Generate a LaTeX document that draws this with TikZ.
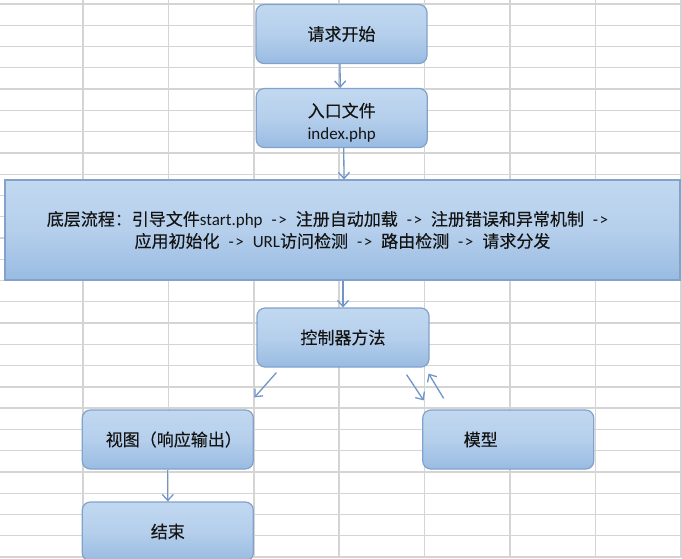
\documentclass[tikz,border=0pt]{standalone}
\usepackage{fontspec}
\setmainfont{Carlito}
\newfontfamily\latin{Carlito}
\newfontfamily\cjk[FakeBold=0.3]{Noto Sans CJK SC}
\usetikzlibrary{arrows.meta}

\definecolor{gridline}{RGB}{212,212,212}
\definecolor{boxtop}{RGB}{193,216,240}
\definecolor{boxmid}{RGB}{181,207,236}
\definecolor{boxbot}{RGB}{153,187,226}
\definecolor{boxline}{RGB}{130,162,204}
\definecolor{arrowc}{RGB}{112,150,200}
\definecolor{ink}{RGB}{20,20,20}

% " -> " separator used in the flow text
\newcommand\flowto{\hspace{9pt}-\kern1.5pt>\hspace{9pt}}

\begin{document}
\begin{tikzpicture}[x=1pt,y=-1pt,
  stepbox/.style={draw=boxline, line width=1.2pt, rounded corners=8pt,
    top color=boxtop, bottom color=boxbot, middle color=boxmid,
    text=ink, font=\cjk\fontsize{17}{22}\selectfont, inner sep=0pt,
    minimum width=171pt, minimum height=59pt},
  arr/.style={draw=arrowc, line width=1.3pt,
    -{Straight Barb[length=6pt,width=11pt,line width=1.3pt]}},
  grid line/.style={draw=gridline, line width=1.3pt}]

\useasboundingbox (0,0) rectangle (682,558);
\fill[white] (0,0) rectangle (682,558);

% spreadsheet grid
\foreach \gx in {83,168.5,254,339,424.5,510,595.5,681}
  \draw[grid line] (\gx,0) -- (\gx,558);
\foreach \k in {0,...,26}
  \draw[grid line] (0,{4+21.27*\k}) -- (682,{4+21.27*\k});

% steps
\node[stepbox] (start) at (341.5,34) {请求开始};
\node[stepbox, align=center] (entry) at (341.75,118)
  {\rule{0pt}{23pt}入口文件\\{\latin index.php}};
\node[stepbox, sharp corners, minimum width=675pt, minimum height=100pt,
  align=center, font=\latin\fontsize{17}{22}\selectfont] (flow) at (342.5,230)
  {{\cjk 底层流程：引导文件}start.php\flowto{\cjk 注册自动加载}\flowto{\cjk 注册错误和异常机制}\hspace{9pt}-\kern1.5pt>\makebox[30pt]{}\\
   {\cjk 应用初始化}\flowto URL{\cjk 访问检测}\flowto{\cjk 路由检测}\flowto{\cjk 请求分发}};
\node[stepbox, minimum width=172pt] (ctrl) at (343,337.5) {控制器方法};
\node[stepbox] (view) at (167.8,439.5) {\makebox[12pt]{}视图（响应输出）};
\node[stepbox] (model) at (508.25,439.5) {模型\makebox[55pt]{}};
\node[stepbox] (finish) at (167.8,531.5) {结束};

% connectors
\draw[arr] ([xshift=-1.5]start.south) -- ([xshift=-1.5]entry.north);
\draw[arr] ([xshift=2]entry.south) -- ([xshift=1.5]flow.north);
\draw[arr] ([xshift=0.5]flow.south) -- (ctrl.north);
\draw[arr] ([shift={(20,5)}]ctrl.south west) -- ([shift={(0.5,-12)}]view.north east);
\draw[arr] ([shift={(-23,7)}]ctrl.south east) -- ([shift={(1.5,-9)}]model.north west);
\draw[arr] ([shift={(21.5,-11)}]model.north west) -- ([shift={(-1,6)}]ctrl.south east);
\draw[arr] (view.south) -- (finish.north);
\end{tikzpicture}
\end{document}
